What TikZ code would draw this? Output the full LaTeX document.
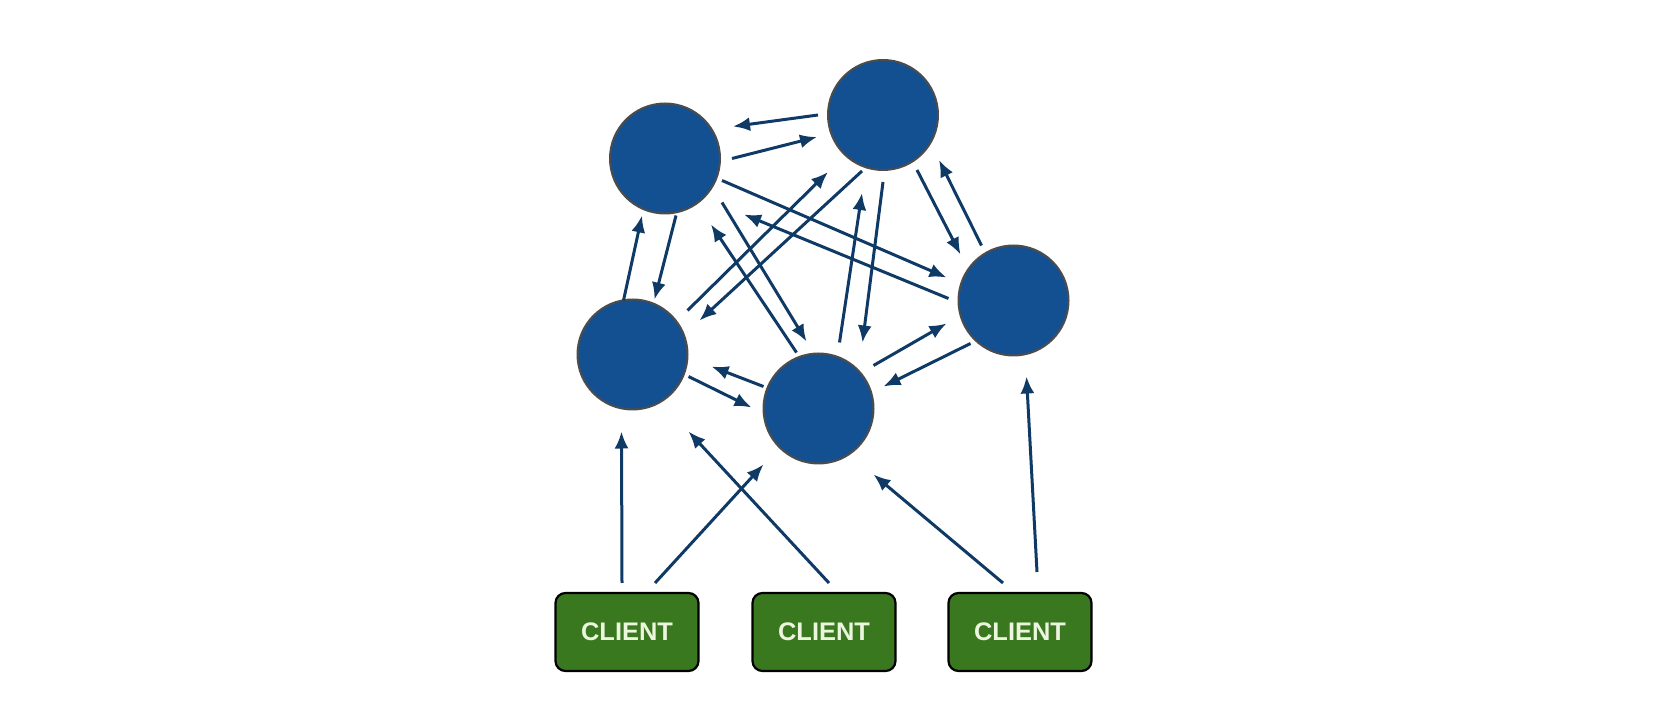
\documentclass[tikz,border=0pt]{standalone}
\usepackage{fontspec}
\setmainfont{Liberation Sans}
\usetikzlibrary{arrows.meta, positioning, calc}

\definecolor{peerblue}{RGB}{18,80,146}
\definecolor{linkblue}{RGB}{16,58,102}
\definecolor{clientgreen}{RGB}{58,120,32}
\definecolor{clienttext}{RGB}{236,246,222}

\begin{document}
\begin{tikzpicture}[x=0.5pt,y=-0.5pt,
    peer/.style={circle, fill=peerblue, draw=black!70, line width=1pt, minimum size=55pt, inner sep=0pt},
    client/.style={rectangle, rounded corners=5pt, fill=clientgreen, draw=black, line width=1.1pt,
      minimum width=71.5pt, minimum height=39pt, inner sep=0pt,
      text=clienttext, font=\fontsize{12.7}{14}\selectfont\bfseries},
    link/.style={draw=linkblue, line width=1.5pt, -{Latex[length=8.5pt,width=7pt]}}]
      \useasboundingbox (0,0) rectangle (1655,710);
      % peers
      \node[peer] (P1) at (665,158.5) {};
      \node[peer] (P2) at (883,115) {};
      \node[peer] (P3) at (1013.5,300.5) {};
      \node[peer] (P4) at (632.5,354.5) {};
      \node[peer] (P5) at (818.5,408.5) {};
      % clients
      \node[client] (C1) at (627,632) {CLIENT};
      \node[client] (C2) at (824,632) {CLIENT};
      \node[client] (C3) at (1020,632) {CLIENT};
      % links between peers: source/offset -- target/offset
      \foreach \s/\sx/\sy/\t/\tx/\ty in {P2/-65/0/P1/68/-32, P1/67/0/P2/-66/22,
        P4/-9/-54/P1/-23/57, P1/11/57/P4/22/-55,
        P1/57/22/P3/-67/-23, P3/-65/-2/P1/79/56,
        P1/57/44/P5/-12/-67, P5/-22/-56/P1/46/66,
        P4/55/-44/P2/-55/57, P2/-21/56/P4/67/-34,
        P5/21/-66/P2/-21/78, P2/0/67/P5/44/-66,
        P2/34/55/P3/-53/-46, P3/-32/-55/P2/56/45,
        P5/-55/-22/P4/79/12, P4/56/22/P5/-67/-1,
        P5/55/-43/P3/-67/23, P3/-43/43/P5/65/-22} {
        \draw[link] ([shift={(\sx,\sy)}]\s.center) -- ([shift={(\tx,\ty)}]\t.center);
      }
      % links from clients
      \foreach \s/\sx/\sy/\t/\tx/\ty in {C1/-5/-49/P4/-11/77, C1/28/-49/P5/-55/56,
        C2/5/-49/P4/56/77, C3/-17/-49/P5/55/66, C3/17/-60/P3/13/76} {
        \draw[link] ([shift={(\sx,\sy)}]\s.center) -- ([shift={(\tx,\ty)}]\t.center);
      }
\end{tikzpicture}
\end{document}
